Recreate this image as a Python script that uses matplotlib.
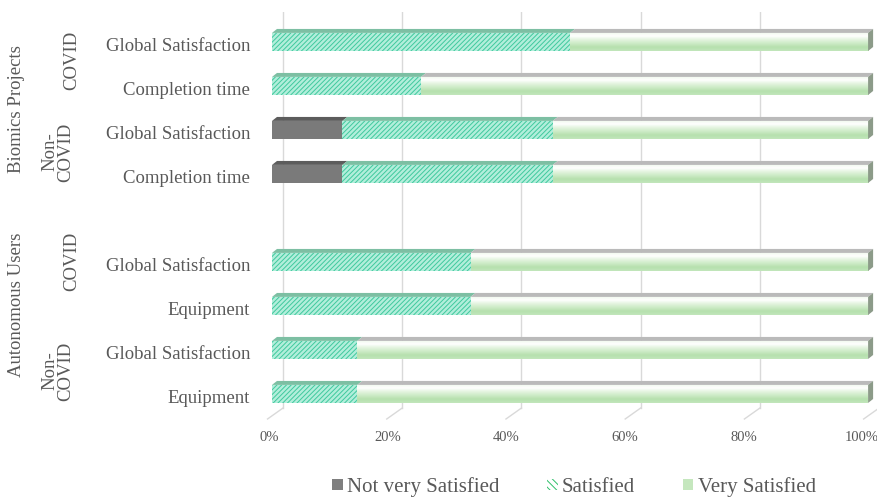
import matplotlib.pyplot as plt
import matplotlib.transforms as mtransforms
import numpy as np
from matplotlib.patches import Polygon, Patch
from matplotlib.colors import LinearSegmentedColormap

plt.rcParams['font.family'] = ['Liberation Serif', 'DejaVu Serif']
plt.rcParams['hatch.linewidth'] = 0.7

## DATA ##
biomics_labels = ["Global Satisfaction", "Completion time", "Global Satisfaction", "Completion time"]
biomics_not = [0, 0, 11.8, 11.8]
biomics_sat = [50.0, 25.0, 35.3, 35.3]
biomics_very = [50.0, 75.0, 52.9, 52.9]

users_labels = ["Global Satisfaction", "Equipment", "Global Satisfaction", "Equipment"]
users_not = [0, 0, 0, 0]
users_sat = [33.3, 33.3, 14.3, 14.3]
users_very = [66.7, 66.7, 85.7, 85.7]

series_names = ["Not very Satisfied", "Satisfied", "Very Satisfied"]
ticks = [0, 20, 40, 60, 80, 100]

TXT = '#595959'

# one empty slot between the two groups
pos = np.r_[np.arange(4), np.arange(4) + 5]
labels = biomics_labels + users_labels
not_v = np.array(biomics_not + users_not)
sat = np.array(biomics_sat + users_sat)
very = np.array(biomics_very + users_very)

fig = plt.figure(figsize=(8.78, 4.97), dpi=100)
ax = fig.add_axes([272 / 878, 78 / 497, 611 / 878, 407 / 497])

# fake 3d: depth offset of the bars and of the back wall
h = 0.41
dx, dy = 0.84, 0.09
gx = 1.85
floor_back, floor_front = 8.32, 8.57

for t in ticks:
    ax.plot([t + gx, t + gx], [-0.68, floor_back], color='#d9d9d9', lw=1, zorder=0)
    ax.plot([t + gx, t - 0.75], [floor_back, floor_front], color='#d9d9d9', lw=1,
            zorder=0, clip_on=False)
    ax.text(t * 0.995 - 0.5, 8.98, f"{t}%", ha='center', va='center', fontsize=10.5,
            color=TXT)

b1 = ax.barh(pos, not_v, height=h, color='#7a7a7a', lw=0, zorder=2)
b2 = ax.barh(pos, sat, left=not_v, height=h, facecolor='#b2eedb',
             edgecolor='#3fc99d', lw=0, hatch='///////', zorder=2)
b3 = ax.barh(pos, very, left=not_v + sat, height=h, facecolor='none', lw=0, zorder=2)

# vertical gradient for the "very satisfied" segments
grad_cmap = LinearSegmentedColormap.from_list(
    'vs', ['#eef8ec', '#ffffff', '#e3f4df', '#cdebc6', '#b5e0ad', '#c2e6bb'])
grad = np.linspace(0, 1, 64).reshape(-1, 1)
for rect in b3:
    x0, y0 = rect.get_x(), rect.get_y()
    im = ax.imshow(grad, cmap=grad_cmap, aspect='auto', interpolation='bicubic',
                   extent=(x0, x0 + rect.get_width(), y0 + h, y0), origin='upper',
                   zorder=2)
    im.set_clip_path(rect)

# top faces
tops = [(b1, '#5c5c5c'), (b2, '#7dbfa3'), (b3, '#bababa')]
for bars, col in tops:
    for rect in bars:
        w = rect.get_width()
        if w <= 0:
            continue
        l, yt = rect.get_x(), rect.get_y()
        ax.add_patch(Polygon([(l, yt), (l + dx, yt - dy), (l + w + dx, yt - dy), (l + w, yt)],
                             closed=True, facecolor=col, lw=0, zorder=3))

# end caps
for rect in b3:
    r, yt = rect.get_x() + rect.get_width(), rect.get_y()
    ax.add_patch(Polygon([(r, yt), (r + dx, yt - dy), (r + dx, yt + h - dy), (r, yt + h)],
                         closed=True, facecolor='#8c9b89', lw=0, zorder=3))

ax.set_xlim(0, 102.5)
ax.set_ylim(8.57, -0.68)
for s in ax.spines.values():
    s.set_visible(False)
ax.set_xticks([])
ax.set_yticks(pos, labels, fontsize=13.5, color=TXT)
ax.tick_params(axis='y', length=0, pad=15.8)
shift = mtransforms.ScaledTranslation(0, -0.03, fig.dpi_scale_trans)
for lab in ax.get_yticklabels():
    lab.set_transform(lab.get_transform() + shift)

# group labels on the left
trans = mtransforms.blended_transform_factory(fig.transFigure, ax.transData)
groups = [("Biomics Projects", 17, 1.52), ("COVID", 72, 0.43), ("Non-\nCOVID", 58, 2.5),
          ("Autonomous Users", 17, 5.98), ("COVID", 72, 4.98), ("Non-\nCOVID", 58, 7.48)]
for txt, px, yy in groups:
    ax.text(px / 878, yy, txt, transform=trans, rotation=90, ha='center', va='center',
            fontsize=13.5, color=TXT, linespacing=0.95)

handles = [Patch(facecolor='#7f7f7f', lw=0),
           Patch(facecolor='white', edgecolor='#2fbf6a', hatch='\\\\\\\\\\', lw=0),
           Patch(facecolor='#c5e7be', lw=0)]
fig.legend(handles, series_names, loc='center', bbox_to_anchor=(574 / 878, 10 / 497),
           ncol=3, frameon=False, fontsize=15, handlelength=0.5, handleheight=0.5,
           handletextpad=0.2, columnspacing=2.3, labelcolor=TXT, borderpad=0)

plt.savefig('out.png', dpi=100)
